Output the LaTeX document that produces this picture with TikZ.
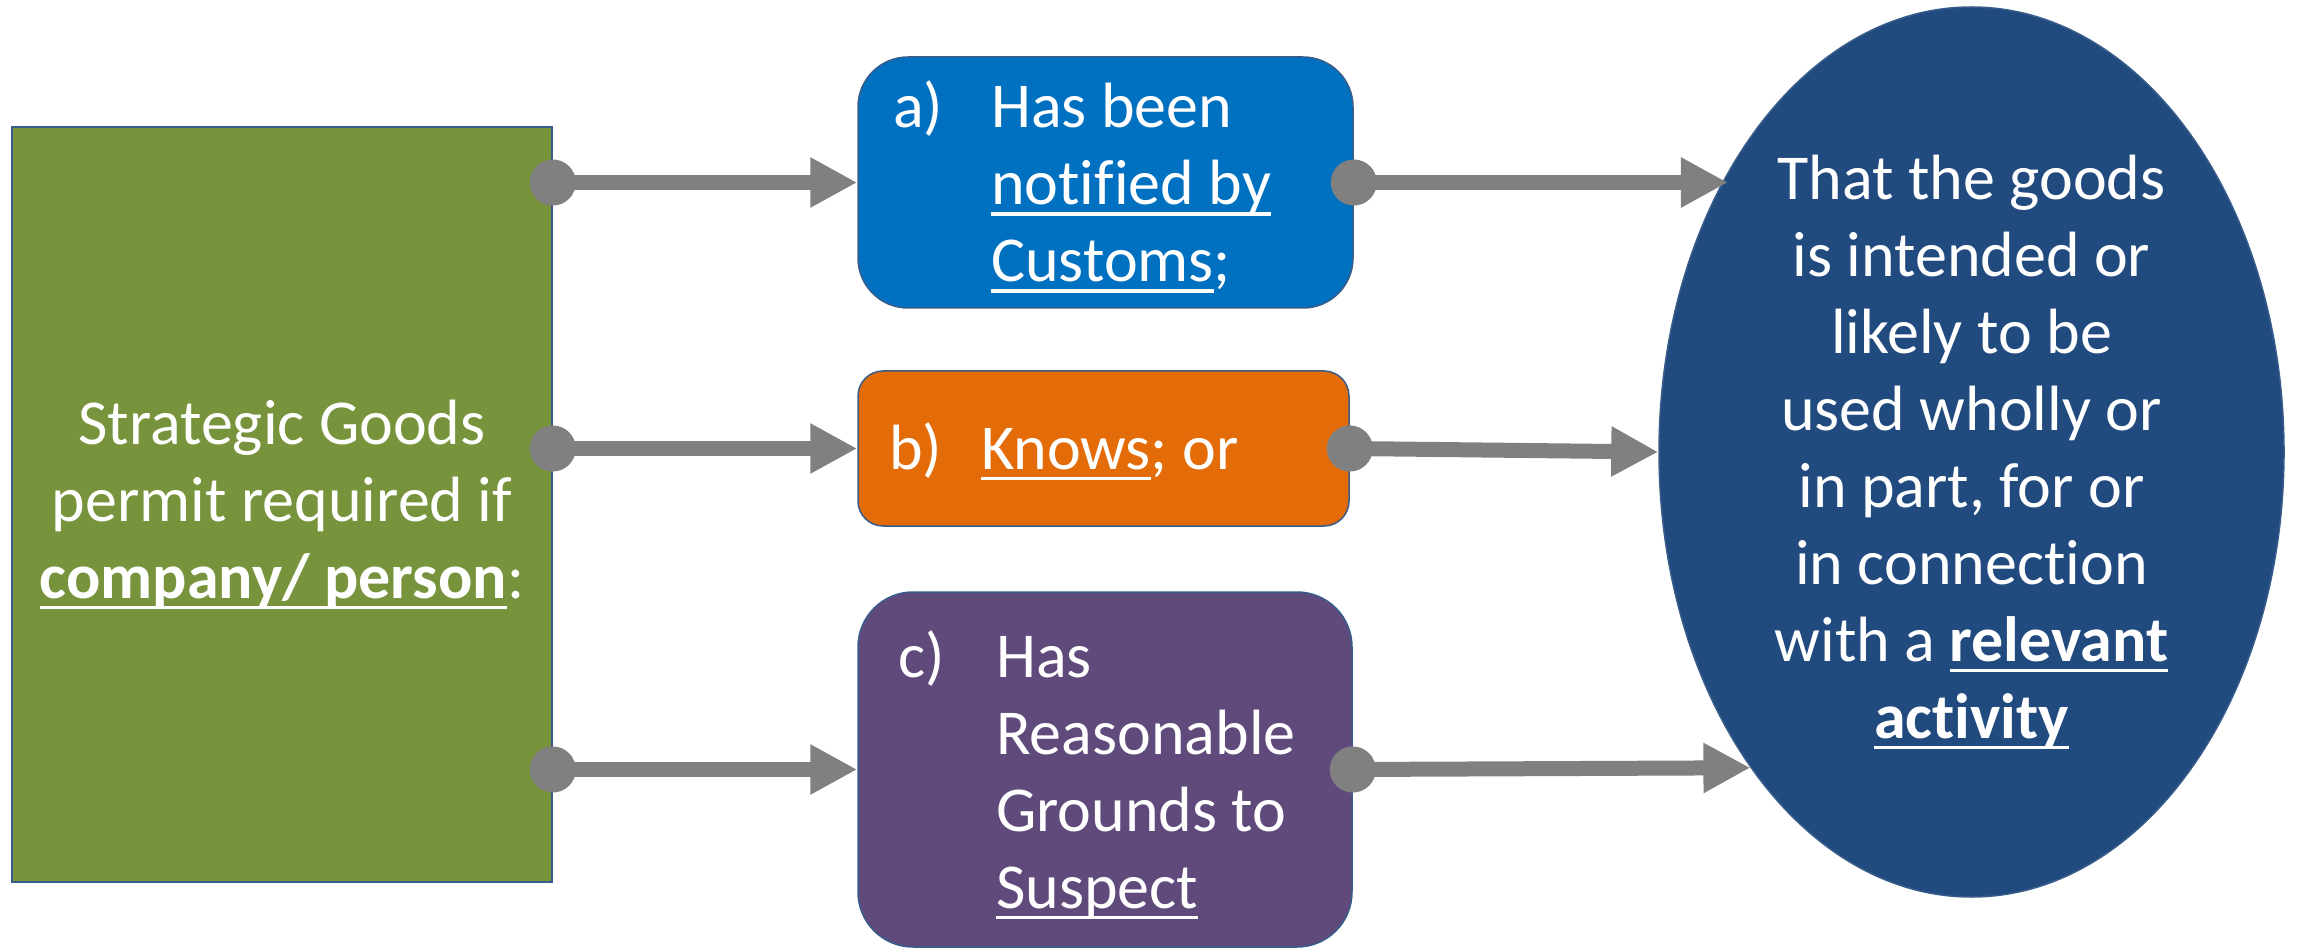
\documentclass[tikz,border=0pt]{standalone}
\usepackage{fontspec}
\setmainfont[Ligatures={NoCommon}]{Carlito}
\usetikzlibrary{arrows.meta,shapes.geometric}
\newsavebox{\myulbox}
\newcommand{\myul}[1]{\sbox{\myulbox}{#1}\rlap{\vrule width\wd\myulbox height -7.5pt depth 11pt}\usebox{\myulbox}}
\definecolor{sgreen}{HTML}{77933C}
\definecolor{boxblue}{HTML}{0070C0}
\definecolor{boxorange}{HTML}{E36C09}
\definecolor{boxpurple}{HTML}{604A7B}
\definecolor{ellblue}{HTML}{214A7E}
\definecolor{edgeblue}{HTML}{385D8A}
\definecolor{arrowgray}{HTML}{808080}
\begin{document}
\begin{tikzpicture}[x=1pt,y=-1pt,
  every node/.style={text=white, font=\fontsize{64}{77}\selectfont},
  box/.style={draw=edgeblue, line width=1.5pt, inner sep=0pt},
  txt/.style={anchor=base west, inner sep=0pt},
  conn/.style={draw=arrowgray, line width=15pt,
    {Circle[length=46pt]}-{Triangle[length=47pt,width=47pt]}, shorten <=-23pt},
  ]
\useasboundingbox (0,0) rectangle (2297,949);
% left block
\node[box, fill=sgreen, minimum width=540pt, minimum height=755pt, align=center]
  (G) at (282,504.5) {Strategic Goods\\permit required if\\\myul{\textbf{company/ person}}:};
% right ellipse
\node[ellipse, box, fill=ellblue, minimum width=625pt, minimum height=890pt, align=center]
  (E) at (1971.5,452) {That the goods\\is intended or\\likely to be\\used wholly or\\in part, for or\\in connection\\with a \myul{\textbf{relevant}}\\\myul{\textbf{activity}}};
% middle boxes
\node[box, fill=boxblue, rounded corners=50pt, minimum width=495pt, minimum height=251pt]
  (A) at (1105.5,182.5) {};
\node[box, fill=boxorange, rounded corners=25pt, minimum width=491pt, minimum height=155pt]
  (B) at (1103.5,448.5) {};
\node[box, fill=boxpurple, rounded corners=55pt, minimum width=494pt, minimum height=355pt]
  (C) at (1105,769.5) {};
% box texts
\node[txt] (At) at (893,128) {\begin{tabular}[t]{@{}l@{}l@{}}\makebox[98pt][l]{a)} & Has been\\ & \myul{notified by}\\ & \myul{Customs};\end{tabular}};
\node[txt] (Bt) at (889,469) {\begin{tabular}[t]{@{}l@{}l@{}}\makebox[92pt][l]{b)} & \myul{Knows}; or\end{tabular}};
\node[txt] (Ct) at (898,677) {\begin{tabular}[t]{@{}l@{}l@{}}\makebox[98pt][l]{c)} & Has\\ & Reasonable\\ & Grounds to\\ & \myul{Suspect}\end{tabular}};
% connectors
\draw[conn] (G.east |- A.west) -- (A.west);
\draw[conn] (G.east |- B.west) -- (B.west);
\draw[conn] (G.east |- C.west) -- (C.west);
\draw[conn] (A.east) -- (A.east -| E.131);
\draw[conn] (B.east) -- (E.west);
\draw[conn] (C.east) -- (E.235);
\end{tikzpicture}
\end{document}
